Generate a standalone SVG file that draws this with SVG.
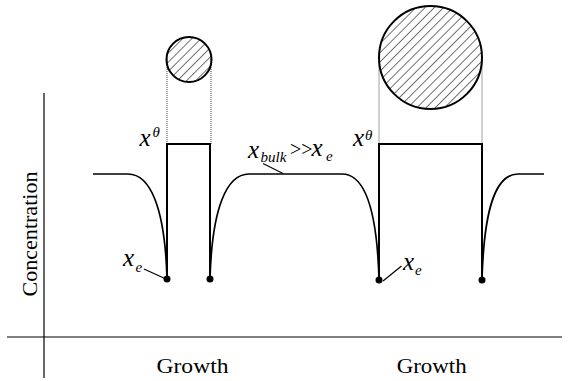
<svg xmlns="http://www.w3.org/2000/svg" width="570" height="381" viewBox="0 0 570 381">
<defs>
<pattern id="hatch" patternUnits="userSpaceOnUse" width="6.5" height="6.5" patternTransform="rotate(45)">
<line x1="0" y1="0" x2="0" y2="6.5" stroke="#000" stroke-width="1.1"/>
</pattern>
</defs>
<style>
.ax{stroke:#000;stroke-width:1.2;fill:none}
.ln{stroke:#000;stroke-width:2;fill:none}
.cv{stroke:#000;stroke-width:1.7;fill:none}
.dot{stroke:#444;stroke-width:1;stroke-dasharray:1 1;fill:none}
.lead{stroke:#000;stroke-width:1.2;fill:none}
.pt{fill:#000}
.crystal{fill:url(#hatch);stroke:#000;stroke-width:2}
.lbl{font-family:"Liberation Serif",serif;font-size:20px;fill:#000}
.math{font-family:"Liberation Serif",serif;font-style:italic;font-size:25px;fill:#000}
.sub{font-family:"Liberation Serif",serif;font-style:italic;font-size:15px;fill:#000}
</style>
<rect width="570" height="381" fill="#fff"/>
<g id="axes">
<line class="ax" x1="44" y1="93" x2="44" y2="378"/>
<line class="ax" x1="7" y1="337" x2="562" y2="337"/>
</g>
<g id="connectors">
<path class="cv" d="M93,174 H128 C150,174 165,207 167,279"/>
<path class="cv" d="M210,279 C212,207 227,174 249,174 H342 C364,174 377,207 379,280"/>
<path class="cv" d="M482,280 C484,207 496,174 518,174 H544"/>
<line class="dot" x1="167" y1="59" x2="167" y2="144"/>
<line class="dot" x1="211" y1="59" x2="211" y2="144"/>
<line class="dot" x1="379" y1="57.5" x2="379" y2="144"/>
<line class="dot" x1="482" y1="57.5" x2="482" y2="144"/>
<line class="lead" x1="144" y1="269" x2="166" y2="279"/>
<line class="lead" x1="383" y1="281" x2="401.5" y2="266"/>
<line class="lead" x1="263" y1="163.5" x2="283" y2="173.5"/>
</g>
<g id="crystal1">
<circle class="crystal" cx="189" cy="59.5" r="22.5"/>
<path class="ln" d="M167,279 V144 H210 V279"/>
<circle class="pt" cx="167" cy="279" r="3.5"/>
<circle class="pt" cx="210" cy="279" r="3.5"/>
<text class="math" x="139.5" y="146">x</text>
<text class="sub" x="152.5" y="137">θ</text>
</g>
<g id="crystal2">
<circle class="crystal" cx="430.5" cy="57.5" r="51.5"/>
<path class="ln" d="M379,280 V144 H482 V280"/>
<circle class="pt" cx="379" cy="280" r="3.5"/>
<circle class="pt" cx="482" cy="280" r="3.5"/>
<text class="math" x="353" y="145.5">x</text>
<text class="sub" x="365" y="140">θ</text>
</g>
<g id="label-xe-left">
<text class="math" x="123" y="265.5">x</text>
<text class="sub" x="135.5" y="271.5">e</text>
</g>
<g id="label-xe-right">
<text class="math" x="403" y="270">x</text>
<text class="sub" x="415" y="275">e</text>
</g>
<g id="label-bulk">
<text class="math" x="248" y="158">x</text>
<text class="sub" x="260.5" y="162">bulk</text>
<text class="lbl" x="290" y="156" font-size="16">&gt;&gt;</text>
<text class="math" x="311.5" y="155.5">x</text>
<text class="sub" x="326" y="160.5">e</text>
</g>
<g id="axis-labels">
<text class="lbl" x="192.5" y="373" text-anchor="middle" textLength="72" lengthAdjust="spacingAndGlyphs">Growth</text>
<text class="lbl" x="431.7" y="373" text-anchor="middle" textLength="70" lengthAdjust="spacingAndGlyphs">Growth</text>
<text class="lbl" transform="translate(36.5,234) rotate(-90)" text-anchor="middle" textLength="125" lengthAdjust="spacingAndGlyphs">Concentration</text>
</g>
</svg>
